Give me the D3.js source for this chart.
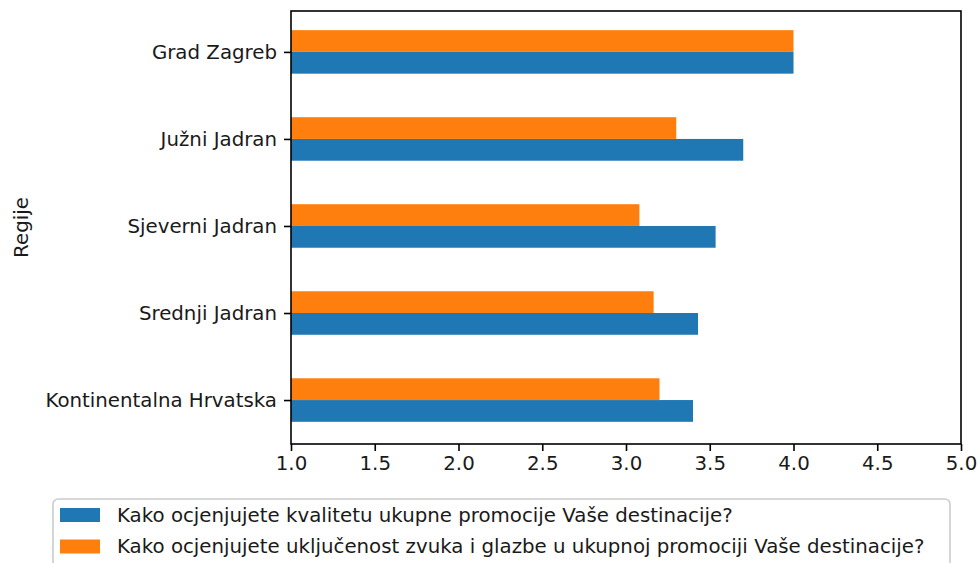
<!DOCTYPE html>
<html>
<head>
<meta charset="utf-8">
<script src="https://cdn.jsdelivr.net/npm/d3@7"></script>
<style>
  body { margin: 0; background: #fff; }
  text { font-family: "DejaVu Sans", sans-serif; fill: #1a1a1a; }
</style>
</head>
<body>
<svg id="chart" width="979" height="563"></svg>
<script>
// regions, bottom to top as in the picture
var regions = ["Kontinentalna Hrvatska", "Srednji Jadran", "Sjeverni Jadran", "Južni Jadran", "Grad Zagreb"];
var promocija = [3.40, 3.43, 3.535, 3.70, 4.0];
var zvukGlazba = [3.20, 3.165, 3.08, 3.30, 4.0];
var xTicks = [1.0, 1.5, 2.0, 2.5, 3.0, 3.5, 4.0, 4.5, 5.0];
var seriesNames = [
  "Kako ocjenjujete kvalitetu ukupne promocije Vaše destinacije?",
  "Kako ocjenjujete uključenost zvuka i glazbe u ukupnoj promociji Vaše destinacije?"
];
var colors = ["#1f77b4", "#ff7f0e"];

var plot = { left: 291, right: 961, top: 11, bottom: 444 };
var fontSize = 19.8;

var svg = d3.select("#chart");

var xScale = d3.scaleLinear().domain([1, 5]).range([plot.left, plot.right]);
// category index on a linear scale, like matplotlib
var yScale = d3.scaleLinear().domain([-0.505, 4.47]).range([plot.bottom, plot.top]);
var barH = 0.25;

var data = regions.map(function (r, i) {
  return { region: r, i: i, a: promocija[i], b: zvukGlazba[i] };
});

// blue bars (below the tick)
svg.append("g")
  .selectAll("rect")
  .data(data)
  .enter()
  .append("rect")
  .attr("x", xScale(1))
  .attr("y", function (d) { return yScale(d.i); })
  .attr("width", function (d) { return xScale(d.a) - xScale(1); })
  .attr("height", function (d) { return yScale(d.i - barH) - yScale(d.i); })
  .attr("fill", colors[0]);

// orange bars (above the tick)
svg.append("g")
  .selectAll("rect")
  .data(data)
  .enter()
  .append("rect")
  .attr("x", xScale(1))
  .attr("y", function (d) { return yScale(d.i + barH); })
  .attr("width", function (d) { return xScale(d.b) - xScale(1); })
  .attr("height", function (d) { return yScale(d.i) - yScale(d.i + barH); })
  .attr("fill", colors[1]);

// x axis
var xAxis = svg.append("g")
  .attr("transform", "translate(0," + plot.bottom + ")")
  .call(d3.axisBottom(xScale).tickValues(xTicks).tickFormat(d3.format(".1f")).tickSize(7).tickPadding(5));
xAxis.select(".domain").remove();
xAxis.selectAll("line").attr("stroke", "#000").attr("stroke-width", 1.6);
xAxis.selectAll("text").style("font-size", fontSize + "px").attr("font-family", null);

// y axis
var yAxis = svg.append("g")
  .attr("transform", "translate(" + plot.left + ",0)")
  .call(d3.axisLeft(yScale).tickValues(d3.range(regions.length))
    .tickFormat(function (i) { return regions[i]; }).tickSize(7).tickPadding(7));
yAxis.select(".domain").remove();
yAxis.selectAll("line").attr("stroke", "#000").attr("stroke-width", 1.6);
yAxis.selectAll("text").style("font-size", fontSize + "px").attr("font-family", null);

// frame
svg.append("rect")
  .attr("x", plot.left)
  .attr("y", plot.top)
  .attr("width", plot.right - plot.left)
  .attr("height", plot.bottom - plot.top)
  .attr("fill", "none")
  .attr("stroke", "#000")
  .attr("stroke-width", 1.6);

// y label
svg.append("text")
  .attr("transform", "translate(28," + (plot.top + plot.bottom) / 2 + ") rotate(-90)")
  .attr("text-anchor", "middle")
  .style("font-size", fontSize + "px")
  .text("Regije");

// legend
var legend = svg.append("g").attr("class", "legend");
legend.append("rect")
  .attr("x", 53)
  .attr("y", 499)
  .attr("width", 897)
  .attr("height", 80)
  .attr("rx", 5)
  .attr("fill", "#fff")
  .attr("fill-opacity", 0.8)
  .attr("stroke", "#cccccc")
  .attr("stroke-width", 1.6);

var items = legend.selectAll(".item")
  .data(seriesNames)
  .enter()
  .append("g")
  .attr("transform", function (d, i) { return "translate(0," + (515 + i * 31.5) + ")"; });
items.append("rect")
  .attr("x", 60)
  .attr("y", -7)
  .attr("width", 40)
  .attr("height", 14)
  .attr("fill", function (d, i) { return colors[i]; });
items.append("text")
  .attr("x", 117)
  .attr("dy", "0.35em")
  .style("font-size", fontSize + "px")
  .text(function (d) { return d; });
</script>
</body>
</html>
